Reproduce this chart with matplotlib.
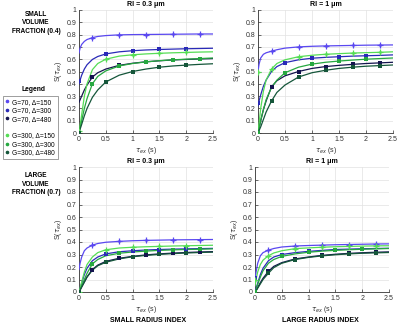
import matplotlib
matplotlib.use("Agg")
import matplotlib.pyplot as plt
from matplotlib.lines import Line2D

plt.rcParams['font.family'] = ['Liberation Sans', 'DejaVu Sans']

# ---------------- data ----------------
SERIES = ["G=70, \u0394=150", "G=70, \u0394=300", "G=70, \u0394=480",
          "G=300, \u0394=150", "G=300, \u0394=300", "G=300, \u0394=480"]
COLORS = ["#5a48f0", "#2a2ab8", "#14144e", "#55dd55", "#26a840", "#15563a"]

PANEL_TITLES = ["RI = 0.3 \u03bcm", "RI = 1 \u03bcm", "RI = 0.3 \u03bcm", "RI = 1 \u03bcm"]

TAU_CURVE = [0, 0.02, 0.05, 0.1, 0.15, 0.25, 0.35, 0.5, 0.75, 1.0, 1.25, 1.5, 1.75, 2.0, 2.25, 2.5]
TAU_A = [0.25, 0.75, 1.25, 1.75, 2.25]
TAU_B = [0.0, 0.5, 1.0, 1.5, 2.0]

# top-left: small volume fraction, RI 0.3
TL_CURVES = [
    [0.65, 0.69, 0.72, 0.745, 0.76, 0.775, 0.785, 0.792, 0.798, 0.800, 0.801, 0.802, 0.803, 0.804, 0.805, 0.805],
    [0.40, 0.43, 0.47, 0.52, 0.555, 0.598, 0.622, 0.643, 0.66, 0.669, 0.675, 0.679, 0.682, 0.685, 0.687, 0.689],
    [0.25, 0.27, 0.30, 0.35, 0.39, 0.455, 0.49, 0.52, 0.55, 0.567, 0.579, 0.587, 0.594, 0.598, 0.602, 0.605],
    [0.0, 0.06, 0.15, 0.30, 0.40, 0.515, 0.565, 0.60, 0.625, 0.636, 0.643, 0.648, 0.652, 0.655, 0.658, 0.66],
    [0.0, 0.04, 0.10, 0.20, 0.28, 0.40, 0.46, 0.505, 0.545, 0.565, 0.578, 0.588, 0.595, 0.60, 0.605, 0.61],
    [0.0, 0.03, 0.07, 0.14, 0.20, 0.29, 0.35, 0.415, 0.47, 0.50, 0.52, 0.535, 0.545, 0.552, 0.558, 0.563],
]
TL_MARK_T = [TAU_A, TAU_B, TAU_A, TAU_B, TAU_A, TAU_B]
TL_MARK_V = [
    [0.775, 0.80, 0.80, 0.802, 0.805],
    [0.42, 0.645, 0.67, 0.68, 0.685],
    [0.455, 0.55, 0.58, 0.595, 0.60],
    [0.02, 0.60, 0.635, 0.648, 0.655],
    [0.40, 0.545, 0.578, 0.595, 0.605],
    [0.0, 0.415, 0.50, 0.535, 0.552],
]

# top-right: small volume fraction, RI 1
TR_CURVES = [
    [0.50, 0.56, 0.61, 0.64, 0.652, 0.665, 0.677, 0.69, 0.70, 0.705, 0.708, 0.71, 0.712, 0.714, 0.715, 0.716],
    [0.22, 0.26, 0.31, 0.38, 0.43, 0.50, 0.54, 0.572, 0.595, 0.608, 0.615, 0.62, 0.625, 0.628, 0.631, 0.635],
    [0.0, 0.04, 0.10, 0.19, 0.26, 0.375, 0.425, 0.465, 0.50, 0.525, 0.54, 0.55, 0.558, 0.565, 0.57, 0.575],
    [0.0, 0.08, 0.20, 0.34, 0.43, 0.52, 0.565, 0.595, 0.62, 0.632, 0.64, 0.645, 0.65, 0.653, 0.656, 0.66],
    [0.0, 0.04, 0.10, 0.19, 0.27, 0.37, 0.43, 0.49, 0.535, 0.56, 0.575, 0.585, 0.593, 0.60, 0.605, 0.61],
    [0.0, 0.02, 0.05, 0.11, 0.17, 0.26, 0.33, 0.39, 0.455, 0.49, 0.51, 0.525, 0.535, 0.543, 0.548, 0.553],
]
TR_MARK_T = [TAU_A, TAU_B, TAU_A, [0.0] + TAU_A, TAU_B, TAU_A]
TR_MARK_V = [
    [0.665, 0.70, 0.71, 0.713, 0.715],
    [0.245, 0.572, 0.608, 0.62, 0.627],
    [0.375, 0.50, 0.54, 0.56, 0.567],
    [0.50, 0.52, 0.62, 0.64, 0.65, 0.655],
    [0.0, 0.49, 0.56, 0.585, 0.60],
    [0.26, 0.455, 0.51, 0.533, 0.547],
]

# bottom-left: large volume fraction, RI 0.3
BL_CURVES = [
    [0.18, 0.23, 0.28, 0.33, 0.352, 0.375, 0.388, 0.398, 0.405, 0.41, 0.413, 0.415, 0.417, 0.418, 0.419, 0.42],
    [0.0, 0.03, 0.07, 0.14, 0.19, 0.25, 0.28, 0.305, 0.322, 0.33, 0.336, 0.34, 0.343, 0.345, 0.347, 0.349],
    [0.0, 0.015, 0.04, 0.08, 0.12, 0.18, 0.215, 0.245, 0.27, 0.285, 0.297, 0.305, 0.311, 0.316, 0.32, 0.323],
    [0.0, 0.03, 0.08, 0.16, 0.22, 0.28, 0.315, 0.338, 0.352, 0.358, 0.362, 0.365, 0.368, 0.37, 0.372, 0.374],
    [0.0, 0.02, 0.05, 0.10, 0.15, 0.225, 0.26, 0.29, 0.31, 0.32, 0.327, 0.333, 0.337, 0.34, 0.342, 0.345],
    [0.0, 0.015, 0.04, 0.08, 0.12, 0.175, 0.21, 0.238, 0.265, 0.282, 0.293, 0.301, 0.307, 0.312, 0.316, 0.319],
]
BL_MARK_T = [TAU_A, TAU_B, TAU_A, TAU_B, TAU_A, TAU_B]
BL_MARK_V = [
    [0.375, 0.405, 0.413, 0.417, 0.419],
    [0.0, 0.305, 0.33, 0.34, 0.345],
    [0.18, 0.27, 0.297, 0.311, 0.32],
    [0.0, 0.338, 0.358, 0.365, 0.37],
    [0.225, 0.31, 0.327, 0.337, 0.342],
    [0.0, 0.238, 0.282, 0.301, 0.312],
]

# bottom-right: large volume fraction, RI 1
BR_CURVES = [
    [0.10, 0.16, 0.23, 0.29, 0.315, 0.335, 0.348, 0.36, 0.368, 0.372, 0.375, 0.378, 0.38, 0.382, 0.384, 0.385],
    [0.0, 0.03, 0.07, 0.14, 0.19, 0.25, 0.28, 0.30, 0.315, 0.325, 0.333, 0.34, 0.343, 0.346, 0.348, 0.35],
    [0.0, 0.01, 0.035, 0.075, 0.11, 0.165, 0.205, 0.235, 0.265, 0.28, 0.293, 0.302, 0.309, 0.314, 0.318, 0.321],
    [0.05, 0.10, 0.16, 0.22, 0.255, 0.29, 0.312, 0.33, 0.347, 0.353, 0.358, 0.362, 0.365, 0.367, 0.369, 0.37],
    [0.0, 0.02, 0.06, 0.12, 0.17, 0.23, 0.26, 0.285, 0.305, 0.318, 0.327, 0.333, 0.338, 0.342, 0.345, 0.348],
    [0.0, 0.01, 0.03, 0.065, 0.10, 0.15, 0.195, 0.23, 0.26, 0.277, 0.289, 0.298, 0.305, 0.31, 0.313, 0.316],
]
BR_MARK_T = [TAU_A, TAU_B, TAU_A, [0.0] + TAU_A, TAU_B, TAU_A]
BR_MARK_V = [
    [0.335, 0.368, 0.375, 0.38, 0.384],
    [0.115, 0.30, 0.325, 0.34, 0.346],
    [0.165, 0.265, 0.293, 0.309, 0.318],
    [0.10, 0.29, 0.347, 0.358, 0.365, 0.369],
    [0.0, 0.285, 0.318, 0.333, 0.342],
    [0.15, 0.26, 0.289, 0.305, 0.313],
]

PANELS = [
    (TL_CURVES, TL_MARK_T, TL_MARK_V),
    (TR_CURVES, TR_MARK_T, TR_MARK_V),
    (BL_CURVES, BL_MARK_T, BL_MARK_V),
    (BR_CURVES, BR_MARK_T, BR_MARK_V),
]

X_TICKS = [0, 0.5, 1, 1.5, 2, 2.5]
X_TICKLABELS = ["0", "0.5", "1", "1.5", "2", "2.5"]
Y_TICKS = [0, 0.1, 0.2, 0.3, 0.4, 0.5, 0.6, 0.7, 0.8, 0.9, 1]
Y_TICKLABELS = ["0", "0.1", "0.2", "0.3", "0.4", "0.5", "0.6", "0.7", "0.8", "0.9", "1"]

# ---------------- figure ----------------
W, H = 400, 331
fig = plt.figure(figsize=(W / 100, H / 100), dpi=100)


def rect(l, r, t, b):
    return [l / W, 1 - b / H, (r - l) / W, (b - t) / H]


AX_RECTS = [rect(79, 213, 10, 133), rect(258, 393, 10, 133),
            rect(79, 213, 167, 292), rect(255, 389, 167, 292)]

FS = 5.0
for k, (curves, mt, mv) in enumerate(PANELS):
    ax = fig.add_axes(AX_RECTS[k])
    for i in range(6):
        ax.plot(TAU_CURVE, curves[i], color=COLORS[i], lw=0.9, zorder=3)
        if i in (0, 3):
            ax.plot(mt[i], mv[i], ls='none', marker='+', ms=4.5, mew=0.9,
                    color=COLORS[i], zorder=4)
            ax.plot(mt[i], mv[i], ls='none', marker='o', ms=2.0, mew=0,
                    color=COLORS[i], zorder=4)
        else:
            ax.plot(mt[i], mv[i], ls='none', marker='s', ms=2.6, mew=0,
                    color=COLORS[i], zorder=4)
    ax.set_xlim(0, 2.5)
    ax.set_ylim(0, 1)
    ax.set_xticks(X_TICKS)
    ax.set_xticklabels(X_TICKLABELS)
    ax.set_yticks(Y_TICKS)
    ax.set_yticklabels(Y_TICKLABELS)
    ax.grid(True, color='#e2e2e2', lw=0.5)
    ax.set_axisbelow(True)
    for s in ('top', 'right'):
        ax.spines[s].set_visible(False)
    for s in ('left', 'bottom'):
        ax.spines[s].set_color('#333333')
        ax.spines[s].set_linewidth(0.6)
    ax.tick_params(labelsize=FS, length=2, width=0.5, pad=2, colors='#333333',
                   direction='in')
    ax.set_title(PANEL_TITLES[k], fontsize=FS, fontweight='bold', pad=3)
    ax.set_xlabel(r"$\tau_{ex}$ (s)", fontsize=FS, labelpad=1.5, color='#333333')
    ax.set_ylabel(r"S($\tau_{ex}$)", fontsize=FS, labelpad=1.5, color='#333333')

# row / column labels
fig.text(36 / W, 1 - 23 / H, "SMALL\nVOLUME\nFRACTION (0.4)", ha='center', va='center',
         fontsize=4.7, fontweight='bold', linespacing=1.35)
fig.text(36 / W, 1 - 184 / H, "LARGE\nVOLUME\nFRACTION (0.7)", ha='center', va='center',
         fontsize=4.7, fontweight='bold', linespacing=1.35)
fig.text(148 / W, 1 - 321 / H, "SMALL RADIUS INDEX", ha='center', va='center',
         fontsize=5.0, fontweight='bold')
fig.text(320 / W, 1 - 321 / H, "LARGE RADIUS INDEX", ha='center', va='center',
         fontsize=5.0, fontweight='bold')

# legend
handles = []
labels = []
for i in range(6):
    if i == 3:
        handles.append(Line2D([], [], ls='none', marker=None))
        labels.append(" ")
    handles.append(Line2D([], [], ls='none', marker='o', ms=1.6, color=COLORS[i]))
    labels.append(SERIES[i])
leg = fig.legend(handles, labels, loc='upper left',
                 bbox_to_anchor=(3 / W, 1 - 96 / H), fontsize=4.8,
                 frameon=True, fancybox=False, handlelength=0.5, handletextpad=0.5,
                 borderpad=0.4, labelspacing=0.22, borderaxespad=0)
leg.get_frame().set_edgecolor('#555555')
leg.get_frame().set_linewidth(0.5)
fig.text(33 / W, 1 - 90 / H, "Legend", ha='center', va='center', fontsize=4.9,
         fontweight='bold')

fig.savefig("out.png", dpi=100)
